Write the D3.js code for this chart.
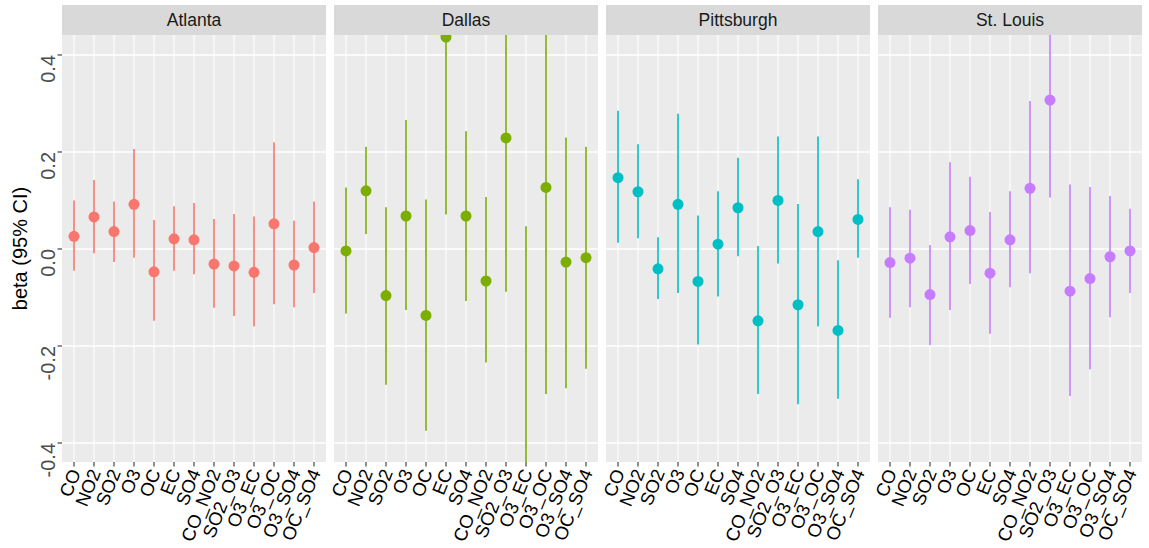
<!DOCTYPE html>
<html>
<head>
<meta charset="utf-8">
<script src="https://cdn.jsdelivr.net/npm/d3@7"></script>
<style>
  html, body { margin: 0; padding: 0; background: #ffffff; }
  svg { display: block; font-family: "Liberation Sans", Arial, sans-serif; }
</style>
</head>
<body>
<svg id="chart" width="1149" height="548"></svg>
<script>
const categories = ["CO","NO2","SO2","O3","OC","EC","SO4","CO_NO2","SO2_O3","O3_EC","O3_OC","O3_SO4","OC_SO4"];
const cities = ["Atlanta","Dallas","Pittsburgh","St. Louis"];
const cityColors = ["#F8766D","#7CAE00","#00BFC4","#C77CFF"];
const yTicks = [-0.4, -0.2, 0.0, 0.2, 0.4];
const yTickLabels = ["-0.4", "-0.2", "0.0", "0.2", "0.4"];

const atlantaBeta  = [0.026, 0.066, 0.036, 0.092, -0.047, 0.021, 0.019, -0.031, -0.035, -0.048, 0.052, -0.033, 0.003];
const atlantaLower = [-0.045, -0.009, -0.027, -0.018, -0.148, -0.045, -0.052, -0.121, -0.138, -0.160, -0.114, -0.120, -0.091];
const atlantaUpper = [0.100, 0.142, 0.098, 0.206, 0.060, 0.088, 0.095, 0.062, 0.072, 0.067, 0.220, 0.058, 0.098];

const dallasBeta  = [-0.004, 0.120, -0.096, 0.068, -0.137, 0.437, 0.068, -0.066, 0.229, -0.500, 0.127, -0.027, -0.018];
const dallasLower = [-0.133, 0.031, -0.280, -0.126, -0.375, 0.071, -0.107, -0.234, -0.088, -1.050, -0.299, -0.287, -0.247];
const dallasUpper = [0.127, 0.211, 0.086, 0.266, 0.102, 0.805, 0.243, 0.107, 0.546, 0.047, 0.553, 0.230, 0.211];

const pittsburghBeta  = [0.147, 0.118, -0.041, 0.092, -0.067, 0.010, 0.085, -0.148, 0.100, -0.115, 0.036, -0.168, 0.061];
const pittsburghLower = [0.013, 0.022, -0.103, -0.091, -0.197, -0.098, -0.015, -0.299, -0.030, -0.320, -0.160, -0.309, -0.018];
const pittsburghUpper = [0.285, 0.216, 0.024, 0.279, 0.069, 0.119, 0.188, 0.006, 0.232, 0.093, 0.232, -0.023, 0.144];

const stlouisBeta  = [-0.028, -0.019, -0.094, 0.025, 0.038, -0.050, 0.019, 0.125, 0.307, -0.087, -0.061, -0.016, -0.004];
const stlouisLower = [-0.142, -0.120, -0.198, -0.126, -0.072, -0.175, -0.079, -0.050, 0.106, -0.303, -0.248, -0.141, -0.091];
const stlouisUpper = [0.086, 0.081, 0.008, 0.179, 0.149, 0.076, 0.119, 0.305, 0.508, 0.133, 0.128, 0.109, 0.083];

const cityBeta  = [atlantaBeta, dallasBeta, pittsburghBeta, stlouisBeta];
const cityLower = [atlantaLower, dallasLower, pittsburghLower, stlouisLower];
const cityUpper = [atlantaUpper, dallasUpper, pittsburghUpper, stlouisUpper];

// layout
const panelLeft = 62, panelRight = 1142, gap = 8;
const stripTop = 5, stripBottom = 35, panelBottom = 462;
const panelW = (panelRight - panelLeft - gap * (cities.length - 1)) / cities.length;

const svg = d3.select("#chart");
const y = d3.scaleLinear().domain([-0.4392, 0.4412]).range([panelBottom, stripBottom]);

const defs = svg.append("defs");

cities.forEach((city, ci) => {
  const x0 = panelLeft + ci * (panelW + gap);
  const x = d3.scalePoint().domain(categories).range([x0, x0 + panelW]).padding(0.6);

  // strip
  svg.append("rect").attr("x", x0).attr("y", stripTop).attr("width", panelW)
    .attr("height", stripBottom - stripTop).attr("fill", "#D9D9D9");
  svg.append("text").attr("x", x0 + panelW / 2).attr("y", (stripTop + stripBottom) / 2)
    .attr("text-anchor", "middle").attr("dominant-baseline", "central")
    .attr("font-size", 17.5).attr("fill", "#1A1A1A").text(city);

  // panel background
  svg.append("rect").attr("x", x0).attr("y", stripBottom).attr("width", panelW)
    .attr("height", panelBottom - stripBottom).attr("fill", "#EBEBEB");

  const clipId = "clip" + ci;
  defs.append("clipPath").attr("id", clipId).append("rect")
    .attr("x", x0).attr("y", stripBottom).attr("width", panelW).attr("height", panelBottom - stripBottom);

  const g = svg.append("g").attr("clip-path", `url(#${clipId})`);

  // grid
  g.selectAll(".hg").data(yTicks).enter().append("line")
    .attr("x1", x0).attr("x2", x0 + panelW)
    .attr("y1", d => y(d)).attr("y2", d => y(d))
    .attr("stroke", "#FFFFFF").attr("stroke-width", 1.4);
  g.selectAll(".vg").data(categories).enter().append("line")
    .attr("x1", d => x(d)).attr("x2", d => x(d))
    .attr("y1", stripBottom).attr("y2", panelBottom)
    .attr("stroke", "#FFFFFF").attr("stroke-width", 1.1);

  const rows = categories.map((c, i) => ({ c, b: cityBeta[ci][i], lo: cityLower[ci][i], hi: cityUpper[ci][i] }));

  g.selectAll(".er").data(rows).enter().append("line")
    .attr("x1", d => x(d.c)).attr("x2", d => x(d.c))
    .attr("y1", d => y(d.lo)).attr("y2", d => y(d.hi))
    .attr("stroke", cityColors[ci]).attr("stroke-width", 1.6);
  g.selectAll(".pt").data(rows).enter().append("circle")
    .attr("cx", d => x(d.c)).attr("cy", d => y(d.b)).attr("r", 5.5)
    .attr("fill", cityColors[ci]);

  // x axis ticks and labels
  const xa = svg.append("g");
  xa.selectAll(".xt").data(categories).enter().append("line")
    .attr("x1", d => x(d)).attr("x2", d => x(d))
    .attr("y1", panelBottom).attr("y2", panelBottom + 4.5)
    .attr("stroke", "#333333").attr("stroke-width", 1.1);
  xa.selectAll(".xl").data(categories).enter().append("text")
    .attr("transform", d => `translate(${x(d) + 1},${panelBottom + 8}) rotate(-68)`)
    .attr("text-anchor", "end").attr("dominant-baseline", "central")
    .attr("font-size", 18.5).attr("fill", "#000000").text(d => d);

  if (ci === 0) {
    const ya = svg.append("g");
    ya.selectAll(".yt").data(yTicks).enter().append("line")
      .attr("x1", x0 - 4.5).attr("x2", x0)
      .attr("y1", d => y(d)).attr("y2", d => y(d))
      .attr("stroke", "#333333").attr("stroke-width", 1.1);
    ya.selectAll(".yl").data(yTicks).enter().append("text")
      .attr("transform", d => `translate(${x0 - 7},${y(d)}) rotate(-90)`)
      .attr("text-anchor", "end").attr("font-size", 20).attr("fill", "#4D4D4D")
      .text((d, i) => yTickLabels[i]);
  }
});

svg.append("text")
  .attr("transform", `translate(27,${(stripBottom + panelBottom) / 2}) rotate(-90)`)
  .attr("text-anchor", "middle").attr("font-size", 20).attr("fill", "#000000")
  .text("beta (95% CI)");
</script>
</body>
</html>
